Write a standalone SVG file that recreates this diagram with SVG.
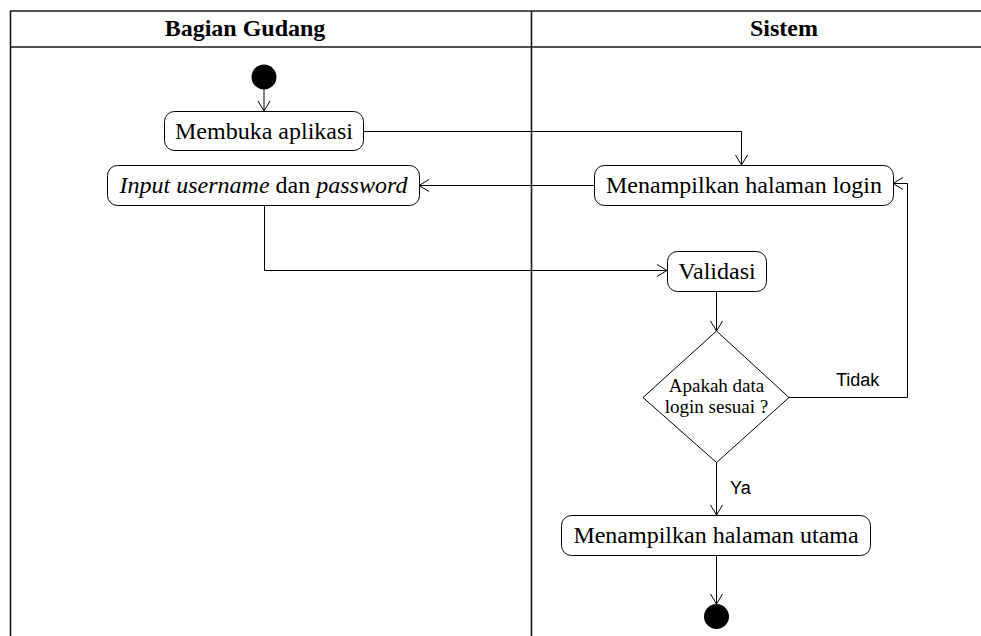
<svg xmlns="http://www.w3.org/2000/svg" width="981" height="636" viewBox="0 0 981 636">
<defs>
<marker id="arr" markerWidth="12" markerHeight="14" refX="11" refY="7" orient="auto" markerUnits="userSpaceOnUse">
<path d="M1,1 L11,7 L1,13" fill="none" stroke="#000" stroke-width="1"/>
</marker>
<style>
.lane{stroke:#1a1a1a;stroke-width:1.6;fill:none}
.hdr{font-family:"Liberation Serif",serif;font-weight:bold;font-size:24px;text-anchor:middle;fill:#000}
.node rect{fill:#fff;stroke:#000;stroke-width:1}
.lbl{font-family:"Liberation Serif",serif;font-size:24px;text-anchor:middle;fill:#000}
.dlbl{font-family:"Liberation Serif",serif;font-size:19px;text-anchor:middle;fill:#000}
.elbl{font-family:"Liberation Sans",Arial,sans-serif;font-size:18px;fill:#000}
.edge{fill:none;stroke:#000;stroke-width:1;marker-end:url(#arr)}
.plain{fill:none;stroke:#000;stroke-width:1}
</style>
</defs>
<rect width="981" height="636" fill="#fff"/>
<g id="swimlanes">
<line class="lane" x1="10" y1="11" x2="981" y2="11"/>
<line class="lane" x1="10" y1="47" x2="981" y2="47"/>
<line class="lane" x1="10.5" y1="11" x2="10.5" y2="636"/>
<line class="lane" x1="531.5" y1="11" x2="531.5" y2="636"/>
<text class="hdr" x="245" y="36">Bagian Gudang</text>
<text class="hdr" x="784" y="36">Sistem</text>
</g>
<g id="connectors">
<line class="edge" x1="264" y1="89" x2="264" y2="111"/>
<polyline class="edge" points="363,131.5 741.5,131.5 741.5,165"/>
<line class="edge" x1="594" y1="185.5" x2="419" y2="185.5"/>
<polyline class="edge" points="264.5,205 264.5,270.5 667,270.5"/>
<line class="edge" x1="716.5" y1="291" x2="716.5" y2="331"/>
<polyline class="edge" points="789,397.5 907.5,397.5 907.5,183.5 893,183.5"/>
<line class="edge" x1="716.5" y1="462" x2="716.5" y2="515"/>
<line class="edge" x1="716.5" y1="555" x2="716.5" y2="604"/>
<text class="elbl" x="836" y="386">Tidak</text>
<text class="elbl" x="730" y="494">Ya</text>
</g>
<g id="start">
<circle cx="264" cy="77" r="12.5" fill="#000"/>
</g>
<g id="membuka" class="node">
<rect x="164.5" y="111.5" width="199" height="39" rx="10"/>
<text class="lbl" x="264" y="139">Membuka aplikasi</text>
</g>
<g id="input" class="node">
<rect x="107.5" y="165.5" width="312" height="40" rx="10"/>
<text class="lbl" x="263.5" y="193"><tspan font-style="italic">Input username</tspan> dan <tspan font-style="italic">password</tspan></text>
</g>
<g id="login" class="node">
<rect x="594.5" y="165.5" width="299" height="40" rx="10"/>
<text class="lbl" x="744" y="193">Menampilkan halaman login</text>
</g>
<g id="validasi" class="node">
<rect x="667.5" y="251.5" width="99" height="40" rx="10"/>
<text class="lbl" x="717" y="279">Validasi</text>
</g>
<g id="decision">
<polygon points="716.5,331 789,397.5 716.5,462.5 643,397.5" fill="#fff" stroke="#000" stroke-width="1"/>
<text class="dlbl" x="716.5" y="392">Apakah data</text>
<text class="dlbl" x="716.5" y="413">login sesuai ?</text>
</g>
<g id="utama" class="node">
<rect x="561.5" y="515.5" width="309" height="40" rx="10"/>
<text class="lbl" x="716" y="543">Menampilkan halaman utama</text>
</g>
<g id="end">
<circle cx="716.5" cy="616.5" r="12.5" fill="#000"/>
</g>
</svg>
